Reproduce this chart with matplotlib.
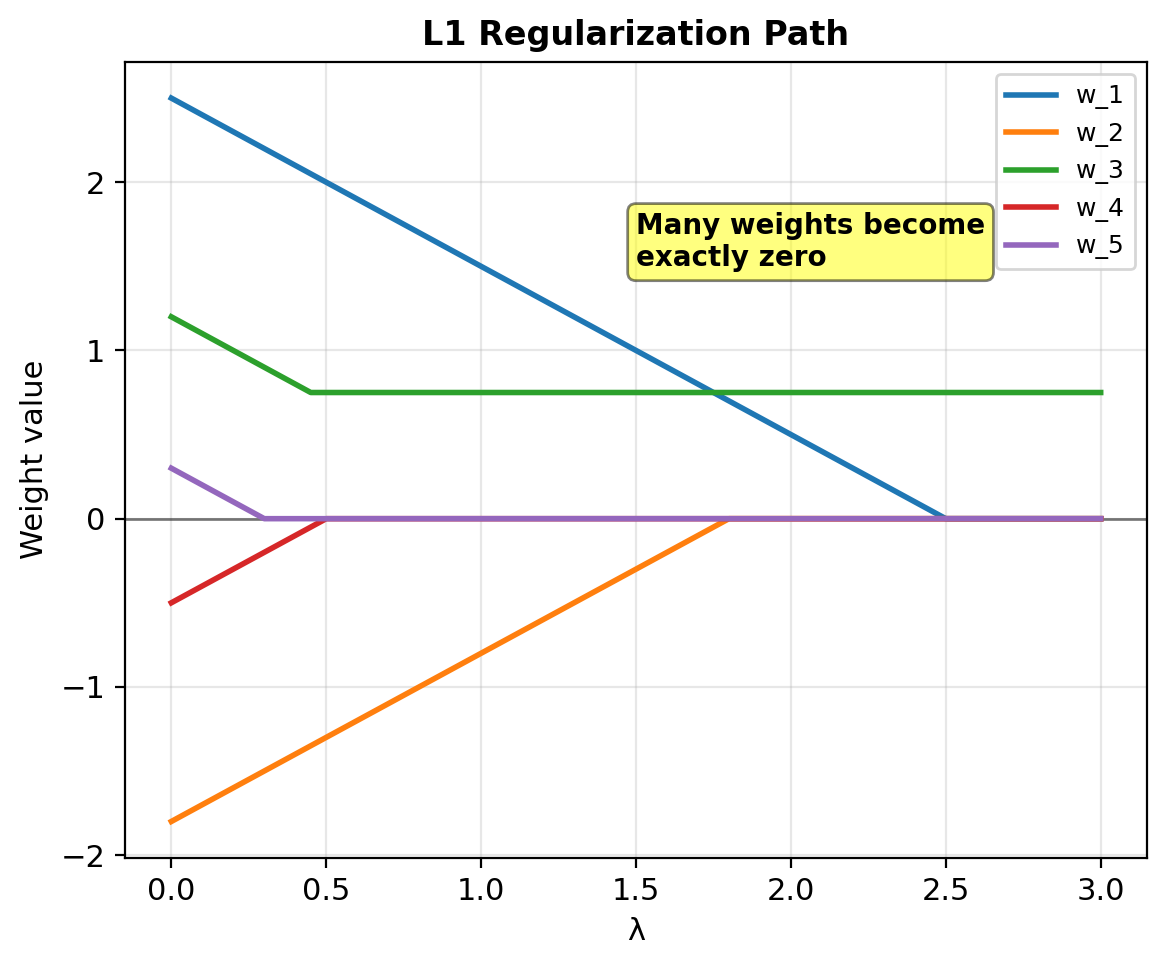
import matplotlib
matplotlib.use("Agg")
import matplotlib.pyplot as plt

# Breakpoints (lambda, weight)
labels = ["w_1", "w_2", "w_3", "w_4", "w_5"]
lam_pts = [
    [0.0, 2.5, 3.0],
    [0.0, 1.8, 3.0],
    [0.0, 0.45, 3.0],
    [0.0, 0.5, 3.0],
    [0.0, 0.3, 3.0],
]
w_pts = [
    [2.5, 0.0, 0.0],
    [-1.8, 0.0, 0.0],
    [1.2, 0.75, 0.75],
    [-0.5, 0.0, 0.0],
    [0.3, 0.0, 0.0],
]
colors = ["#1f77b4", "#ff7f0e", "#2ca02c", "#d62728", "#9467bd"]

fig = plt.figure(figsize=(5.835, 4.84), dpi=200)
ax = fig.add_axes([0.107, 0.114, 0.876, 0.822])

ax.axhline(0, color="black", lw=1, alpha=0.5, zorder=1.8)
for x, y, lab, c in zip(lam_pts, w_pts, labels, colors):
    ax.plot(x, y, color=c, lw=2, label=lab, zorder=2)

ax.grid(True, alpha=0.3)
ax.tick_params(labelsize=11)
ax.set_xlabel("λ", fontsize=11)
ax.set_ylabel("Weight value", fontsize=11)
ax.set_title("L1 Regularization Path", fontweight="bold", fontsize=12)
ax.legend(loc="upper right", fontsize=9)
ax.text(1.5, 1.5, "Many weights become\nexactly zero", fontsize=10, fontweight="bold",
        bbox=dict(boxstyle="round", facecolor="yellow", alpha=0.5))

fig.savefig("out.png", dpi=200)
